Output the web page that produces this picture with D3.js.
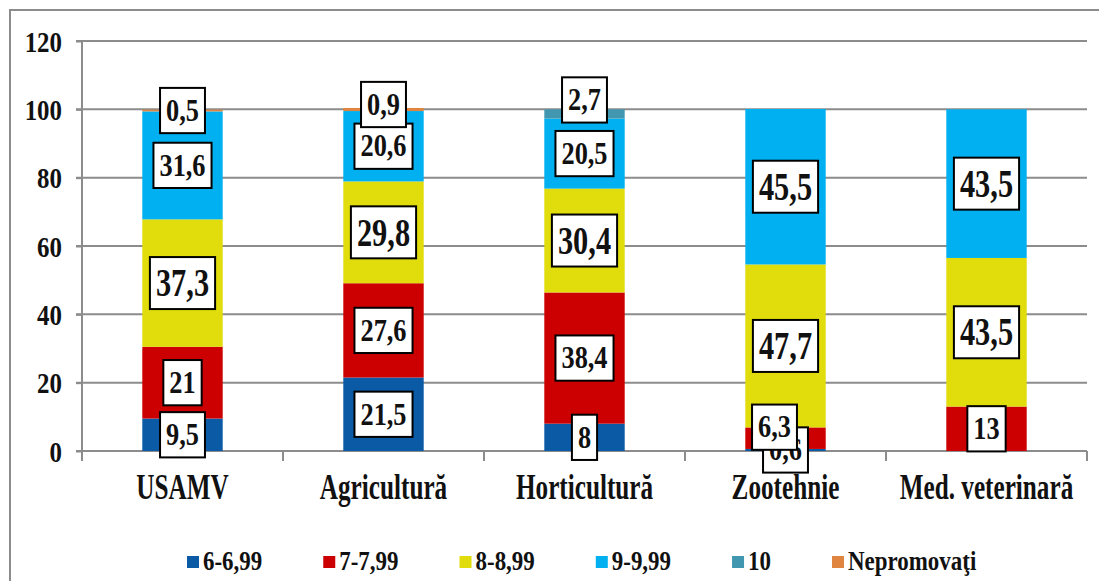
<!DOCTYPE html>
<html>
<head>
<meta charset="utf-8">
<script src="https://cdn.jsdelivr.net/npm/d3@7"></script>
<style>
  body { margin: 0; background: #fff; }
  svg { display: block; }
</style>
</head>
<body>
<div id="chart"></div>
<script>
// DATA
var categories = ['USAMV', 'Agricultură', 'Horticultură', 'Zootehnie', 'Med. veterinară'];
var seriesNames = ['6-6,99', '7-7,99', '8-8,99', '9-9,99', '10', 'Nepromovaţi'];
var seriesColors = ['#0B5AA6', '#CC0000', '#E1DC0B', '#00B0F0', '#4197B0', '#E0853F'];
var grade6 = [9.5, 21.5, 8, 0.6, 0];
var grade7 = [21, 27.6, 38.4, 6.3, 13];
var grade8 = [37.3, 29.8, 30.4, 47.7, 43.5];
var grade9 = [31.6, 20.6, 20.5, 45.5, 43.5];
var grade10 = [0, 0, 2.7, 0, 0];
var failed = [0.5, 0.9, 0, 0, 0];
var yTicks = [0, 20, 40, 60, 80, 100, 120];

// label nudges (px) where labels were moved to avoid overlap: [series, category, dx, dy]
var labelNudges = [[1, 3, -11, -11], [4, 2, 0, -14], [5, 1, 0, -5]];

var FONT = "'Liberation Serif'";
var W = 1099, H = 581;
var margin = { top: 41, left: 82, right: 12, bottom: 130 };
var plotW = W - margin.left - margin.right;
var plotH = 451 - margin.top;

var svg = d3.select('#chart').append('svg')
  .attr('width', W)
  .attr('height', H);

// outer frame
svg.append('path')
  .attr('d', 'M10,' + (H + 2) + ' L10,10 L' + (W + 2) + ',10')
  .attr('fill', 'none')
  .attr('stroke', '#8c8c8c')
  .attr('stroke-width', 2);

var g = svg.append('g')
  .attr('transform', 'translate(' + margin.left + ',' + margin.top + ')');

var x = d3.scaleBand()
  .domain(categories)
  .range([0, plotW])
  .paddingInner(0.6)
  .paddingOuter(0.3);

var y = d3.scaleLinear()
  .domain([0, 120])
  .range([plotH, 0]);

// helper for the tall, narrow bold serif text of the original
function label(parent, txt, size, sx, anchor) {
  return parent.append('text')
    .attr('font-family', FONT)
    .attr('font-weight', 'bold')
    .attr('font-size', size)
    .attr('fill', '#111')
    .attr('text-anchor', anchor)
    .attr('transform', 'scale(' + sx + ',1)')
    .text(txt);
}

// gridlines
g.selectAll('.grid')
  .data(yTicks)
  .enter().append('line')
  .attr('x1', -6)
  .attr('x2', plotW)
  .attr('y1', function(d) { return y(d); })
  .attr('y2', function(d) { return y(d); })
  .attr('stroke', '#8c8c8c')
  .attr('stroke-width', 2);

// y axis
var yAxis = g.append('g')
  .call(d3.axisLeft(y).tickValues(yTicks).tickSize(6).tickFormat(''));
yAxis.select('.domain').remove();
yAxis.selectAll('line').attr('stroke', '#8c8c8c').attr('stroke-width', 2);
yAxis.selectAll('.tick').each(function(d) {
  var t = label(d3.select(this).append('g').attr('transform', 'translate(-20,0)'), String(d), 30, 0.83, 'end');
  t.attr('y', 10);
});

g.append('line')
  .attr('x1', 0).attr('x2', 0)
  .attr('y1', 0).attr('y2', plotH + 10)
  .attr('stroke', '#8c8c8c')
  .attr('stroke-width', 2);

// x axis category boundary ticks
var step = x.step();
g.selectAll('.xtick')
  .data(d3.range(categories.length + 1))
  .enter().append('line')
  .attr('x1', function(i) { return i * step; })
  .attr('x2', function(i) { return i * step; })
  .attr('y1', plotH)
  .attr('y2', plotH + 10)
  .attr('stroke', '#8c8c8c')
  .attr('stroke-width', 2);

// stacked bars
var table = categories.map(function(c, i) {
  return { cat: c, s0: grade6[i], s1: grade7[i], s2: grade8[i], s3: grade9[i], s4: grade10[i], s5: failed[i] };
});
var keys = ['s0', 's1', 's2', 's3', 's4', 's5'];
var stacked = d3.stack().keys(keys)(table);

var layers = g.selectAll('.layer')
  .data(stacked)
  .enter().append('g')
  .attr('fill', function(d, i) { return seriesColors[i]; });

layers.selectAll('rect')
  .data(function(d) { return d; })
  .enter().append('rect')
  .attr('x', function(d) { return x(d.data.cat); })
  .attr('width', x.bandwidth())
  .attr('y', function(d) { return y(d[1]); })
  .attr('height', function(d) { return y(d[0]) - y(d[1]); });

// data labels
stacked.forEach(function(layer, si) {
  layer.forEach(function(d, ci) {
    var v = d[1] - d[0];
    if (v <= 0) return;
    var big = (si === 2 || v > 40);
    var fs = big ? 40 : 31;
    var sx = big ? 0.76 : 0.85;
    var cx = x(d.data.cat) + x.bandwidth() / 2;
    var cy = y((d[0] + d[1]) / 2);
    labelNudges.forEach(function(n) {
      if (n[0] === si && n[1] === ci) { cx += n[2]; cy += n[3]; }
    });
    var lbl = g.append('g').attr('transform', 'translate(' + cx + ',' + cy + ')');
    var box = lbl.append('rect')
      .attr('fill', '#fff')
      .attr('stroke', '#000')
      .attr('stroke-width', 2);
    var t = label(lbl, String(v.toFixed(1)).replace(/\.0$/, '').replace('.', ','), fs, sx, 'middle')
      .attr('y', fs * 0.33);
    var tw = t.node().getComputedTextLength() * sx;
    var bw = tw + 12, bh = fs * 0.75 + 22;
    box.attr('x', -bw / 2).attr('y', -bh / 2).attr('width', bw).attr('height', bh);
  });
});

// category labels
categories.forEach(function(c) {
  var cg = g.append('g')
    .attr('transform', 'translate(' + (x(c) + x.bandwidth() / 2) + ',' + (plotH + 48) + ')');
  label(cg, c, 35, 0.72, 'middle');
});

// legend
var lx = 187, ly = 562;
seriesNames.forEach(function(name, i) {
  svg.append('rect')
    .attr('x', lx).attr('y', ly - 6)
    .attr('width', 12).attr('height', 12)
    .attr('fill', seriesColors[i]);
  var lg = svg.append('g').attr('transform', 'translate(' + (lx + 16) + ',' + (ly + 8) + ')');
  var t = label(lg, name, 27, 0.85, 'start');
  lx += 16 + t.node().getComputedTextLength() * 0.85 + 61;
});
</script>
</body>
</html>
